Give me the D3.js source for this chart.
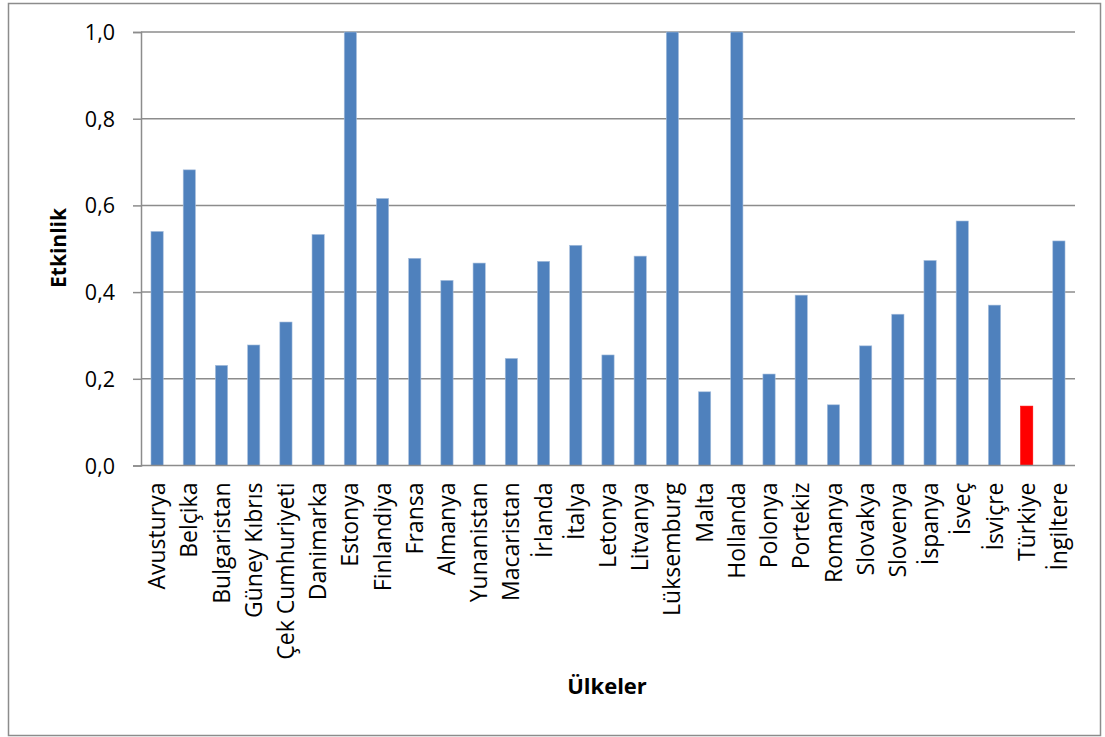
<!DOCTYPE html>
<html>
<head>
<meta charset="utf-8">
<script src="https://cdn.jsdelivr.net/npm/d3@7"></script>
<style>
  html, body { margin: 0; padding: 0; background: #fff; }
  svg text { font-family: "Open Sans", "Noto Sans", sans-serif; fill: #000; }
</style>
</head>
<body>
<svg id="chart" width="1105" height="737"></svg>
<script>
// Countries along the x axis
const countries = [
  "Avusturya", "Belçika", "Bulgaristan", "Güney Kıbrıs", "Çek Cumhuriyeti",
  "Danimarka", "Estonya", "Finlandiya", "Fransa", "Almanya", "Yunanistan",
  "Macaristan", "İrlanda", "İtalya", "Letonya", "Litvanya", "Lüksemburg",
  "Malta", "Hollanda", "Polonya", "Portekiz", "Romanya", "Slovakya",
  "Slovenya", "İspanya", "İsveç", "İsviçre", "Türkiye", "İngiltere"
];

// Efficiency score per country
const efficiency = [
  0.540, 0.682, 0.231, 0.278, 0.331,
  0.533, 1.000, 0.616, 0.478, 0.427, 0.467,
  0.247, 0.471, 0.508, 0.255, 0.483, 1.000,
  0.170, 1.000, 0.211, 0.393, 0.140, 0.276,
  0.349, 0.473, 0.564, 0.370, 0.137, 0.518
];

// Highlighted country
const highlight = ["Türkiye"];

const yTicks = [0, 0.2, 0.4, 0.6, 0.8, 1.0];
const yTitle = "Etkinlik";
const xTitle = "Ülkeler";

const svg = d3.select("#chart");
const plot = { left: 141, right: 1075, top: 32, bottom: 465.5 };

// Outer frame
svg.append("rect")
  .attr("x", 8.5).attr("y", 3.5)
  .attr("width", 1092).attr("height", 732)
  .attr("fill", "#fff").attr("stroke", "#8c8c8c").attr("stroke-width", 1.5);

const x = d3.scaleBand()
  .domain(countries)
  .range([plot.left, plot.right])
  .paddingInner(0.62).paddingOuter(0.31);

const y = d3.scaleLinear()
  .domain([0, 1])
  .range([plot.bottom, plot.top]);

// Horizontal grid lines
svg.append("g")
  .selectAll("line")
  .data(yTicks.filter(d => d > 0))
  .join("line")
  .attr("x1", plot.left).attr("x2", plot.right)
  .attr("y1", d => y(d)).attr("y2", d => y(d))
  .attr("stroke", "#8c8c8c").attr("stroke-width", 1.5);

// Bars
const data = countries.map((c, i) => ({ c, v: efficiency[i] }));
svg.append("g")
  .selectAll("rect")
  .data(data)
  .join("rect")
  .attr("x", d => x(d.c))
  .attr("y", d => y(d.v))
  .attr("width", x.bandwidth())
  .attr("height", d => y(0) - y(d.v))
  .attr("fill", d => highlight.includes(d.c) ? "#ff0000" : "#4f81bd")
  .attr("stroke", d => highlight.includes(d.c) ? "#ff0000" : "#a7bfdd")
  .attr("stroke-width", 0.6);

// Y axis
const yAxis = d3.axisLeft(y)
  .tickValues(yTicks)
  .tickSize(8)
  .tickPadding(18)
  .tickFormat(d => d3.format(".1f")(d).replace(".", ","));
const gy = svg.append("g")
  .attr("transform", `translate(${plot.left},0)`)
  .call(yAxis);
gy.attr("font-family", null);
gy.select(".domain").attr("stroke", "#8c8c8c").attr("stroke-width", 1.5);
gy.selectAll(".tick line").attr("stroke", "#8c8c8c").attr("stroke-width", 1.5);
gy.selectAll(".tick text")
  .style("font-size", "21.5px")
  .attr("dy", "0.35em");

// X axis
const xAxis = d3.axisBottom(x).tickSize(0).tickPadding(0);
const gx = svg.append("g")
  .attr("transform", `translate(0,${plot.bottom})`)
  .call(xAxis);
gx.attr("font-family", null);
gx.select(".domain")
  .attr("d", `M${plot.left},0H${plot.right}`)
  .attr("stroke", "#8c8c8c").attr("stroke-width", 1.5);
gx.selectAll(".tick text")
  .style("font-size", "23px")
  .attr("text-anchor", "end")
  .attr("transform", "rotate(-90)")
  .attr("x", -17)
  .attr("y", 0)
  .attr("dy", "0.35em");

// Axis titles
svg.append("text")
  .attr("transform", `translate(66,248) rotate(-90)`)
  .attr("text-anchor", "middle")
  .style("font-size", "21px")
  .style("font-weight", "bold")
  .text(yTitle);

svg.append("text")
  .attr("x", 607).attr("y", 694)
  .attr("text-anchor", "middle")
  .style("font-size", "22px")
  .style("font-weight", "bold")
  .text(xTitle);
</script>
</body>
</html>
